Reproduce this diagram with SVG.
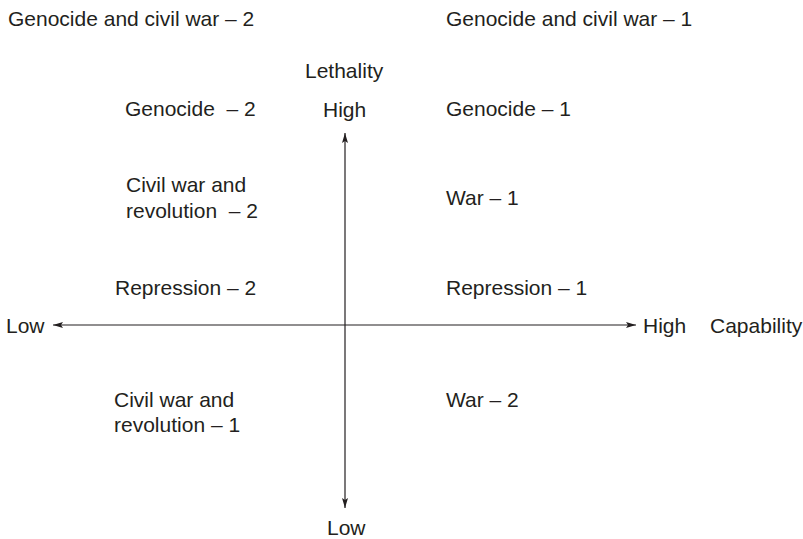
<svg xmlns="http://www.w3.org/2000/svg" width="803" height="539" viewBox="0 0 803 539">
<defs>
<style>
text{font-family:"Liberation Sans",Arial,sans-serif;font-size:21px;fill:#231f20}
.ax{stroke:#231f20;stroke-width:1.2;fill:none}
</style>
<marker id="ah" viewBox="0 0 10 6" refX="10" refY="3" markerWidth="10" markerHeight="6" markerUnits="userSpaceOnUse" orient="auto"><path d="M0,0 L10,3 L0,6 L2,3 Z" fill="#231f20"/></marker>
</defs>
<rect width="803" height="539" fill="#fff"/>
<g id="connectors">
<line class="ax" x1="345" y1="325" x2="53" y2="325" marker-end="url(#ah)"/>
<line class="ax" x1="345" y1="325" x2="636" y2="325" marker-end="url(#ah)"/>
<line class="ax" x1="345" y1="325" x2="345" y2="133" marker-end="url(#ah)"/>
<line class="ax" x1="345" y1="325" x2="345" y2="508" marker-end="url(#ah)"/>
</g>
<g id="axis-labels">
<text x="305" y="78">Lethality</text>
<text x="323" y="117">High</text>
<text x="327" y="535">Low</text>
<text x="6" y="333">Low</text>
<text x="643" y="333">High</text>
<text x="710" y="333">Capability</text>
</g>
<g id="n-gcw2"><text x="8" y="26">Genocide and civil war – 2</text></g>
<g id="n-gcw1"><text x="446" y="26">Genocide and civil war – 1</text></g>
<g id="n-g2"><text x="125" y="116" xml:space="preserve">Genocide  – 2</text></g>
<g id="n-g1"><text x="446" y="116">Genocide – 1</text></g>
<g id="n-cw2"><text x="126" y="192">Civil war and</text><text x="126" y="218" xml:space="preserve">revolution  – 2</text></g>
<g id="n-w1"><text x="446" y="205">War – 1</text></g>
<g id="n-r2"><text x="115" y="295">Repression – 2</text></g>
<g id="n-r1"><text x="446" y="295">Repression – 1</text></g>
<g id="n-cw1"><text x="114" y="407">Civil war and</text><text x="114" y="432">revolution – 1</text></g>
<g id="n-w2"><text x="446" y="407">War – 2</text></g>
</svg>
